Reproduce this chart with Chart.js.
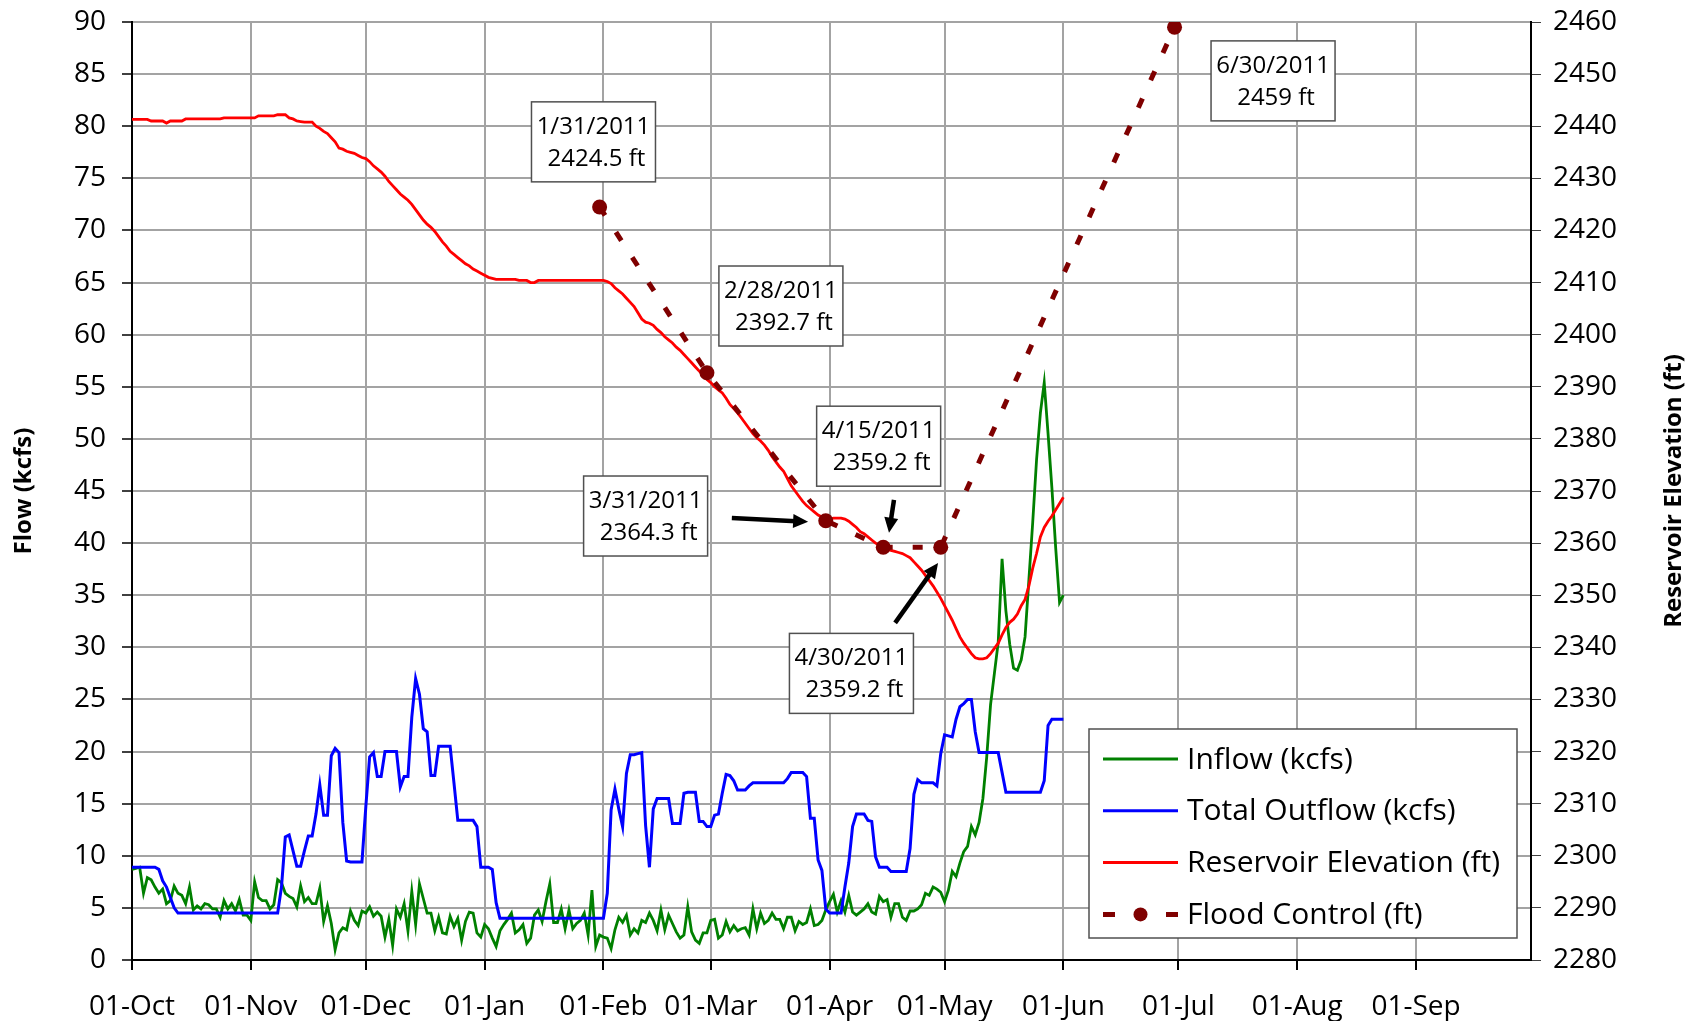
<!DOCTYPE html>
<html>
<head>
<meta charset="utf-8">
<title>Reservoir Operations 2010-2011</title>
<script src="https://cdn.jsdelivr.net/npm/chart.js@4.4.1/dist/chart.umd.min.js"></script>
<style>
  html, body { margin: 0; padding: 0; background: #fff; }
  #wrap { width: 1690px; height: 1021px; }
</style>
</head>
<body>
<div id="wrap"><canvas id="flowChart" width="1690" height="1021"></canvas></div>
<script>
// x axis: days counted from 01-Oct-2010
const monthTicks = [0, 31, 61, 92, 123, 151, 182, 212, 243, 273, 304, 335];
const monthLabels = ["01-Oct", "01-Nov", "01-Dec", "01-Jan", "01-Feb", "01-Mar",
                     "01-Apr", "01-May", "01-Jun", "01-Jul", "01-Aug", "01-Sep"];

// daily inflow (kcfs), 01-Oct-2010 .. 01-Jun-2011
const inflow = [
  // Oct
  8.7, 8.8, 8.9, 6.4, 7.9, 7.7, 7.0, 6.4, 6.8, 5.4, 5.7, 7.1, 6.4, 6.2, 5.4, 7.0,
  4.8, 5.2, 4.9, 5.4, 5.3, 4.9, 4.9, 4.1, 5.7, 4.9, 5.4, 4.7, 5.8, 4.3, 4.3,
  // Nov
  3.8, 7.5, 6.0, 5.7, 5.7, 4.9, 5.3, 7.7, 7.4, 6.4, 6.1, 5.9, 5.1, 7.1, 5.6,
  6.0, 5.4, 5.4, 6.9, 3.7, 5.2, 3.5, 1.0, 2.6, 3.1, 2.9, 4.7, 3.8, 3.3, 4.7,
  // Dec
  4.5, 5.1, 4.2, 4.6, 4.2, 2.2, 3.9, 1.4, 4.9, 4.1, 5.4, 2.8, 6.6, 3.4, 7.3, 5.9,
  4.5, 4.5, 2.8, 4.1, 2.6, 2.5, 4.2, 3.2, 4.0, 1.9, 3.7, 4.6, 4.5, 2.6, 2.2,
  // Jan
  3.4, 3.0, 2.1, 1.3, 2.8, 3.4, 3.9, 4.5, 2.6, 2.9, 3.4, 1.6, 2.1, 4.3, 4.8, 3.7,
  5.6, 7.3, 3.6, 3.6, 4.9, 3.0, 4.8, 3.0, 3.5, 3.8, 4.5, 2.4, 6.7, 1.3, 2.4,
  // Feb
  2.2, 2.1, 1.1, 2.9, 4.1, 3.6, 4.3, 2.4, 3.0, 2.6, 3.8, 3.6, 4.5, 3.8,
  2.8, 4.8, 2.9, 4.3, 3.5, 2.7, 2.1, 2.4, 5.1, 2.7, 1.9, 1.6, 2.6, 2.6,
  // Mar
  3.8, 3.9, 2.1, 2.4, 3.7, 2.7, 3.3, 2.8, 3.0, 3.1, 2.4, 4.9, 3.0, 4.5, 3.5, 3.8,
  4.5, 3.9, 3.9, 3.0, 4.1, 4.1, 2.8, 3.7, 3.4, 3.6, 4.9, 3.3, 3.4, 3.8, 4.8,
  // Apr
  5.6, 6.3, 4.6, 5.7, 4.6, 6.2, 4.6, 4.3, 4.6, 4.9, 5.4, 4.6, 4.4, 6.1, 5.6,
  5.8, 4.1, 5.4, 5.4, 4.1, 3.8, 4.7, 4.7, 4.9, 5.3, 6.4, 6.2, 7.0, 6.8, 6.5,
  // May
  5.6, 6.7, 8.5, 8.0, 9.3, 10.4, 10.9, 12.8, 12.0, 13.2, 15.5, 19.5, 24.5, 27.5, 30.5, 38.5,
  33.5, 30.3, 28.0, 27.8, 28.8, 31.0, 36.5, 42.0, 48.0, 52.5, 55.4, 50.5, 45.3, 39.5, 34.3,
  // Jun 1
  35.0
];

// daily total outflow (kcfs)
const outflow = [
  // Oct
  8.9, 8.9, 8.9, 8.9, 8.9, 8.9, 8.9, 8.7, 7.6, 7.0, 6.0, 5.0, 4.5, 4.5, 4.5, 4.5,
  4.5, 4.5, 4.5, 4.5, 4.5, 4.5, 4.5, 4.5, 4.5, 4.5, 4.5, 4.5, 4.5, 4.5, 4.5,
  // Nov
  4.5, 4.5, 4.5, 4.5, 4.5, 4.5, 4.5, 4.5, 7.0, 11.8, 12.0, 10.5, 9.0, 9.0, 10.5,
  11.9, 11.9, 14.0, 16.8, 13.9, 13.9, 19.6, 20.3, 19.9, 13.2, 9.5, 9.4, 9.4, 9.4, 9.4,
  // Dec
  14.7, 19.5, 19.9, 17.6, 17.6, 20.0, 20.0, 20.0, 20.0, 16.6, 17.6, 17.6, 23.3, 27.0, 25.5, 22.2,
  21.9, 17.7, 17.7, 20.5, 20.5, 20.5, 20.5, 17.0, 13.4, 13.4, 13.4, 13.4, 13.4, 12.8, 8.9,
  // Jan
  8.9, 8.9, 8.7, 5.5, 4.0, 4.0, 4.0, 4.0, 4.0, 4.0, 4.0, 4.0, 4.0, 4.0, 4.0, 4.0,
  4.0, 4.0, 4.0, 4.0, 4.0, 4.0, 4.0, 4.0, 4.0, 4.0, 4.0, 4.0, 4.0, 4.0, 4.0,
  // Feb
  4.0, 6.4, 14.4, 16.4, 14.5, 12.8, 17.9, 19.7, 19.7, 19.8, 19.9, 12.9, 8.9, 14.5,
  15.5, 15.5, 15.5, 15.5, 13.1, 13.1, 13.1, 16.0, 16.1, 16.1, 16.1, 13.3, 13.3, 12.8,
  // Mar
  12.8, 13.9, 14.0, 16.0, 17.8, 17.7, 17.2, 16.3, 16.3, 16.3, 16.7, 17.0, 17.0, 17.0, 17.0, 17.0,
  17.0, 17.0, 17.0, 17.0, 17.4, 18.0, 18.0, 18.0, 18.0, 17.6, 13.6, 13.6, 9.6, 8.6, 4.9,
  // Apr
  4.5, 4.5, 4.5, 4.5, 7.0, 9.3, 12.8, 14.0, 14.0, 14.0, 13.4, 13.3, 9.9, 8.9, 8.9,
  8.9, 8.5, 8.5, 8.5, 8.5, 8.5, 10.7, 15.9, 17.3, 17.0, 17.0, 17.0, 17.0, 16.7, 19.8,
  // May
  21.6, 21.5, 21.4, 23.1, 24.3, 24.6, 25.0, 25.0, 21.9, 19.9, 19.9, 19.9, 19.9, 19.9, 19.9, 18.0,
  16.1, 16.1, 16.1, 16.1, 16.1, 16.1, 16.1, 16.1, 16.1, 16.1, 17.2, 22.5, 23.1, 23.1, 23.1,
  // Jun 1
  23.1
];

// daily reservoir elevation (ft)
const elevation = [
  // Oct
  2441.3, 2441.3, 2441.3, 2441.3, 2441.3, 2441.0, 2441.0, 2441.0, 2441.0, 2440.6, 2441.0,
  2441.0, 2441.0, 2441.0, 2441.4, 2441.4, 2441.4, 2441.4, 2441.4, 2441.4, 2441.4, 2441.4,
  2441.4, 2441.4, 2441.6, 2441.6, 2441.6, 2441.6, 2441.6, 2441.6, 2441.6,
  // Nov
  2441.6, 2441.6, 2442.0, 2442.0, 2442.0, 2442.0, 2442.0, 2442.2, 2442.2, 2442.2,
  2441.6, 2441.4, 2441.0, 2440.9, 2440.8, 2440.8, 2440.8, 2440.0, 2439.6, 2439.0,
  2438.6, 2437.8, 2437.0, 2435.8, 2435.6, 2435.2, 2435.0, 2434.8, 2434.4, 2434.0,
  // Dec
  2433.8, 2433.2, 2432.4, 2431.8, 2431.2, 2430.4, 2429.4, 2428.6, 2427.8, 2427.0, 2426.4,
  2425.8, 2425.0, 2424.0, 2423.0, 2422.0, 2421.2, 2420.6, 2419.8, 2418.8, 2417.8,
  2417.0, 2416.0, 2415.4, 2414.8, 2414.2, 2413.6, 2413.2, 2412.6, 2412.2, 2411.8,
  // Jan
  2411.4, 2411.0, 2410.8, 2410.6, 2410.6, 2410.6, 2410.6, 2410.6, 2410.6, 2410.4, 2410.4,
  2410.4, 2410.0, 2410.0, 2410.4, 2410.4, 2410.4, 2410.4, 2410.4, 2410.4, 2410.4,
  2410.4, 2410.4, 2410.4, 2410.4, 2410.4, 2410.4, 2410.4, 2410.4, 2410.4, 2410.4,
  // Feb
  2410.4, 2410.2, 2409.8, 2409.0, 2408.4, 2407.8, 2407.0, 2406.2, 2405.4, 2404.2,
  2403.0, 2402.4, 2402.2, 2401.8, 2401.0, 2400.4, 2399.6, 2399.0, 2398.4, 2397.6,
  2397.0, 2396.2, 2395.4, 2394.6, 2393.8, 2393.0, 2392.2, 2391.4,
  // Mar
  2390.8, 2390.0, 2389.4, 2388.8, 2387.8, 2386.6, 2385.8, 2385.0, 2384.0, 2383.0, 2382.0,
  2381.0, 2380.2, 2379.6, 2378.8, 2377.8, 2376.6, 2375.6, 2374.6, 2373.8, 2372.4,
  2371.0, 2370.0, 2369.0, 2368.0, 2367.2, 2366.6, 2366.0, 2365.4, 2365.0, 2364.6,
  // Apr
  2364.6, 2364.8, 2364.8, 2364.8, 2364.6, 2364.2, 2363.6, 2363.0, 2362.2, 2361.8,
  2361.2, 2360.6, 2360.0, 2359.6, 2359.0, 2358.8, 2358.6, 2358.4, 2358.2, 2358.0,
  2357.6, 2357.2, 2356.4, 2355.6, 2354.8, 2353.8, 2352.8, 2351.8, 2350.6, 2349.4,
  // May
  2348.0, 2346.6, 2345.2, 2343.6, 2342.0, 2340.8, 2339.8, 2338.8, 2338.0, 2337.8, 2337.8,
  2338.0, 2338.8, 2339.8, 2340.8, 2342.4, 2343.8, 2344.8, 2345.4, 2346.4, 2348.0,
  2349.2, 2351.8, 2355.2, 2358.0, 2361.2, 2363.0, 2364.2, 2365.2, 2366.4, 2367.6,
  // Jun 1
  2368.8
];

// flood control rule curve
const floodDays = [122, 150, 181, 196, 211, 272];
const floodDates = ["1/31/2011", "2/28/2011", "3/31/2011", "4/15/2011", "4/30/2011", "6/30/2011"];
const floodElev = [2424.5, 2392.7, 2364.3, 2359.2, 2359.2, 2459];

// callout boxes (centre in day / ft) and arrows
const callouts = [
  { i: 0, day: 120.4, ft: 2437.0 },
  { i: 1, day: 169.3, ft: 2405.5 },
  { i: 2, day: 134.0, ft: 2365.2 },
  { i: 3, day: 194.8, ft: 2378.6 },
  { i: 4, day: 187.7, ft: 2335.0 },
  { i: 5, day: 297.7, ft: 2448.7 }
];
const arrows = [
  { from: [156.5, 2364.8], to: [176.4, 2364.1] },
  { from: [198.8, 2368.3], to: [197.5, 2362.0] },
  { from: [199.1, 2344.7], to: [210.3, 2356.2] }
];

const FONT = "'Open Sans', sans-serif";
Chart.defaults.font.family = FONT;
Chart.defaults.color = "#000";

const toXY = arr => arr.map((v, i) => ({ x: i, y: v }));

// draws axis titles, callouts and the legend box
const extrasPlugin = {
  id: "extras",
  afterDraw(chart) {
    const ctx = chart.ctx;
    const area = chart.chartArea;
    const xs = chart.scales.x;
    const ys = chart.scales.y2;
    ctx.save();

    // axis titles, both reading bottom to top
    ctx.font = "bold 24px " + FONT;
    ctx.fillStyle = "#000";
    ctx.textAlign = "center";
    ctx.textBaseline = "middle";
    const midY = (area.top + area.bottom) / 2;
    [[area.left - 108, "Flow (kcfs)"], [area.right + 143, "Reservoir Elevation (ft)"]].forEach(([tx, txt]) => {
      ctx.save();
      ctx.translate(tx, midY);
      ctx.rotate(-Math.PI / 2);
      ctx.fillText(txt, 0, 0);
      ctx.restore();
    });

    // arrows
    ctx.strokeStyle = "#000";
    ctx.fillStyle = "#000";
    ctx.lineWidth = 4.5;
    arrows.forEach(a => {
      const x1 = xs.getPixelForValue(a.from[0]), y1 = ys.getPixelForValue(a.from[1]);
      const x2 = xs.getPixelForValue(a.to[0]), y2 = ys.getPixelForValue(a.to[1]);
      const ang = Math.atan2(y2 - y1, x2 - x1);
      const head = 15;
      ctx.beginPath();
      ctx.moveTo(x1, y1);
      ctx.lineTo(x2 - Math.cos(ang) * head * 0.8, y2 - Math.sin(ang) * head * 0.8);
      ctx.stroke();
      ctx.beginPath();
      ctx.moveTo(x2, y2);
      ctx.lineTo(x2 - head * Math.cos(ang) + 7 * Math.sin(ang), y2 - head * Math.sin(ang) - 7 * Math.cos(ang));
      ctx.lineTo(x2 - head * Math.cos(ang) - 7 * Math.sin(ang), y2 - head * Math.sin(ang) + 7 * Math.cos(ang));
      ctx.closePath();
      ctx.fill();
    });

    // callout boxes
    ctx.font = "24px " + FONT;
    callouts.forEach(c => {
      const cx = xs.getPixelForValue(c.day), cy = ys.getPixelForValue(c.ft);
      const w = 124, h = 80;
      ctx.fillStyle = "#fff";
      ctx.fillRect(cx - w / 2, cy - h / 2, w, h);
      ctx.strokeStyle = "#505050";
      ctx.lineWidth = 1.5;
      ctx.strokeRect(cx - w / 2, cy - h / 2, w, h);
      ctx.fillStyle = "#000";
      ctx.fillText(floodDates[c.i], cx, cy - 15);
      ctx.fillText(floodElev[c.i] + " ft", cx + 3, cy + 17);
    });

    // legend
    const lx = area.right - 442, ly = area.bottom - 231, lw = 428, lh = 209;
    ctx.fillStyle = "#fff";
    ctx.fillRect(lx, ly, lw, lh);
    ctx.strokeStyle = "#505050";
    ctx.lineWidth = 1.5;
    ctx.strokeRect(lx, ly, lw, lh);
    ctx.font = "30px " + FONT;
    ctx.textAlign = "left";
    chart.data.datasets.forEach((ds, k) => {
      const ry = ly + 30 + k * 51.8;
      const sx = lx + 14, ex = lx + 89;
      ctx.strokeStyle = ds.borderColor;
      if (ds.borderDash) {
        ctx.lineWidth = 5;
        ctx.beginPath();
        ctx.moveTo(sx, ry); ctx.lineTo(sx + 12, ry);
        ctx.moveTo(ex - 12, ry); ctx.lineTo(ex, ry);
        ctx.stroke();
        ctx.fillStyle = ds.pointBackgroundColor;
        ctx.beginPath();
        ctx.arc((sx + ex) / 2, ry, 7, 0, Math.PI * 2);
        ctx.fill();
      } else {
        ctx.lineWidth = 3;
        ctx.beginPath();
        ctx.moveTo(sx, ry); ctx.lineTo(ex, ry);
        ctx.stroke();
      }
      ctx.fillStyle = "#000";
      ctx.fillText(ds.label, lx + 98, ry + 1);
    });
    ctx.restore();
  }
};

const gridColor = "#a3a3a3";

// fixed axis sizes so the plot area sits where the original one does
const fitVertical = w => s => {
  s.width = w;
  s.paddingTop = 0;
  s.paddingBottom = 0;
};

new Chart(document.getElementById("flowChart"), {
  type: "line",
  data: {
    datasets: [
      {
        label: "Inflow (kcfs)",
        data: toXY(inflow),
        yAxisID: "y",
        borderColor: "#008000",
        borderWidth: 2.8,
        pointRadius: 0,
        order: 4
      },
      {
        label: "Total Outflow (kcfs)",
        data: toXY(outflow),
        yAxisID: "y",
        borderColor: "#0000ff",
        borderWidth: 3,
        pointRadius: 0,
        order: 3
      },
      {
        label: "Reservoir Elevation (ft)",
        data: toXY(elevation),
        yAxisID: "y2",
        borderColor: "#ff0000",
        borderWidth: 2.8,
        pointRadius: 0,
        order: 2
      },
      {
        label: "Flood Control (ft)",
        data: floodDays.map((d, i) => ({ x: d, y: floodElev[i] })),
        yAxisID: "y2",
        borderColor: "#7f0000",
        borderWidth: 5,
        borderDash: [10, 20],
        pointRadius: 7.5,
        pointBackgroundColor: "#7f0000",
        pointBorderColor: "#7f0000",
        pointBorderWidth: 0,
        order: 1
      }
    ]
  },
  options: {
    responsive: false,
    animation: false,
    layout: { padding: { top: 22, left: 0, right: 0, bottom: 0 } },
    plugins: {
      legend: { display: false },
      tooltip: { enabled: false }
    },
    scales: {
      x: {
        type: "linear",
        min: 0,
        max: 365,
        afterBuildTicks: s => { s.ticks = monthTicks.map(v => ({ value: v })); },
        afterFit: s => { s.height = 61; s.paddingLeft = 0; s.paddingRight = 0; },
        ticks: {
          autoSkip: false,
          maxRotation: 0,
          padding: 20,
          font: { size: 28 },
          callback: v => monthLabels[monthTicks.indexOf(v)]
        },
        grid: { color: gridColor, lineWidth: 2, tickColor: "#000", tickLength: 10 },
        border: { color: "#000", width: 2 }
      },
      y: {
        position: "left",
        min: 0,
        max: 90,
        afterFit: fitVertical(132),
        ticks: { stepSize: 5, padding: 16, font: { size: 28 } },
        grid: { color: gridColor, lineWidth: 2, tickColor: "#404040", tickLength: 10 },
        border: { color: "#000", width: 2 }
      },
      y2: {
        position: "right",
        min: 2280,
        max: 2460,
        afterFit: fitVertical(159),
        ticks: { stepSize: 10, padding: 12, font: { size: 28 }, callback: v => String(v) },
        grid: { drawOnChartArea: false, tickColor: "#404040", tickLength: 10 },
        border: { color: "#000", width: 2 }
      }
    }
  },
  plugins: [extrasPlugin]
});
</script>
</body>
</html>
